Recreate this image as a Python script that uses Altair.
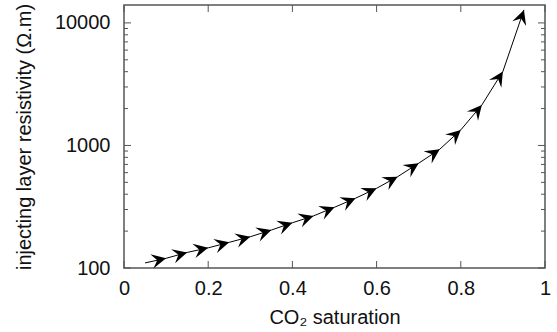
import math
import altair as alt
import pandas as pd

# data
sat = [0.05, 0.10, 0.15, 0.20, 0.25, 0.30, 0.35, 0.40, 0.45, 0.50,
       0.55, 0.60, 0.65, 0.70, 0.75, 0.80, 0.85, 0.90, 0.95]
res = [110, 120, 134, 146, 162, 180, 204, 234, 266, 313,
       371, 447, 556, 716, 931, 1340, 2140, 4020, 12770]

x_ticks = [0, 0.2, 0.4, 0.6, 0.8, 1]
y_major = [100, 1000, 10000]
y_minor = [200, 300, 400, 500, 600, 700, 800, 900,
           2000, 3000, 4000, 5000, 6000, 7000, 8000, 9000]

W, H = 421, 263
YMIN, YMAX = 100, 14000
FONT = "Liberation Sans"
FRAME = "#555555"

xscale = alt.Scale(domain=[0, 1], nice=False)
yscale = alt.Scale(type="log", domain=[YMIN, YMAX], nice=False)


def sx(v):
    return v * W


def sy(v):
    return H * (1 - (math.log10(v) - math.log10(YMIN)) / (math.log10(YMAX) - math.log10(YMIN)))


angles = []
for i in range(1, len(sat)):
    dx = sx(sat[i]) - sx(sat[i - 1])
    dy = sy(res[i]) - sy(res[i - 1])
    angles.append(math.degrees(math.atan2(dy, dx)) % 360)

line_df = pd.DataFrame({"s": sat, "r": res})
arrow_df = pd.DataFrame({"s": sat[1:], "r": res[1:], "angle": angles})

line = alt.Chart(line_df).mark_line(color="black", strokeWidth=1).encode(
    x=alt.X("s:Q", scale=xscale,
            axis=alt.Axis(values=x_ticks, format="~g", ticks=False, tickSize=0,
                          labelPadding=10, labelFlush=False,
                          title="CO₂ saturation", titleX=W / 2, titleY=55,
                          titleBaseline="alphabetic")),
    y=alt.Y("r:Q", scale=yscale,
            axis=alt.Axis(values=y_major, format="d", ticks=False, tickSize=0,
                          labelPadding=14,
                          title="injecting layer resistivity (Ω.m)",
                          titleX=-100, titleY=H / 2, titleBaseline="middle")),
)

arrow_path = "M0,0 L-1,-0.5 L-0.62,0 L-1,0.5 Z"
arrows = alt.Chart(arrow_df).mark_point(
    shape=arrow_path, filled=True, size=850, color="black", opacity=1, strokeWidth=0
).encode(
    x=alt.X("s:Q", scale=xscale),
    y=alt.Y("r:Q", scale=yscale),
    angle=alt.Angle("angle:Q", scale=None),
)


def yticks(vals, length, right=False):
    df = pd.DataFrame({"r": vals})
    x0 = W - length if right else 0
    x1 = W if right else length
    return alt.Chart(df).mark_rule(color=FRAME, strokeWidth=1).encode(
        y=alt.Y("r:Q", scale=yscale),
        x=alt.value(x0), x2=alt.value(x1))


def xticks(vals, length, top=False):
    df = pd.DataFrame({"s": vals})
    y0 = 0 if top else H - length
    y1 = length if top else H
    return alt.Chart(df).mark_rule(color=FRAME, strokeWidth=1).encode(
        x=alt.X("s:Q", scale=xscale),
        y=alt.value(y0), y2=alt.value(y1))


layers = [
    line,
    yticks(y_major, 7), yticks(y_minor, 4),
    yticks(y_major, 7, right=True), yticks(y_minor, 4, right=True),
    xticks(x_ticks, 7), xticks(x_ticks, 7, top=True),
    arrows,
]

chart = alt.layer(*layers).properties(
    width=W, height=H,
    autosize=alt.AutoSizeParams(type="none"),
    padding={"left": 124, "top": 5, "right": 12, "bottom": 64},
    background="white",
).configure_view(
    stroke=FRAME, strokeWidth=1.5
).configure_axis(
    grid=False, domain=False,
    labelFont=FONT, titleFont=FONT,
    labelFontSize=20, titleFontSize=20,
    labelColor="#111111", titleColor="#111111",
    titleFontWeight="normal",
)

chart.save("out.html", embed_options={"renderer": "svg", "actions": False})
